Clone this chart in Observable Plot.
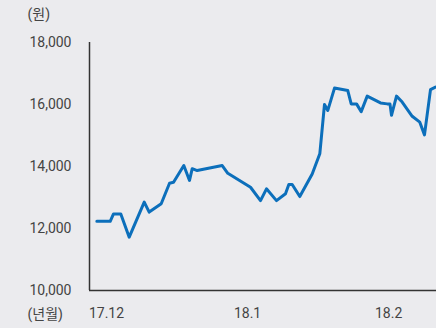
<!DOCTYPE html>
<html><head><meta charset="utf-8">
<script src="https://cdn.jsdelivr.net/npm/d3@7"></script>
<script src="https://cdn.jsdelivr.net/npm/@observablehq/plot@0.6"></script>
<style>
html,body{margin:0;padding:0;background:#ebebee;}
#chart svg{display:block;}
</style></head><body><div id="chart"></div>
<script>
// days since 2017-12-01 (approximate)
const days = [-2.13,0.81,1.54,3.14,4.99,8.29,9.38,12.02,13.85,14.73,16.99,18.24,18.84,19.93,25.43,26.66,31.65,33.85,35.16,37.36,39.34,40.07,40.81,42.48,45.21,46.88,47.91,48.64,50.11,53.03,53.78,54.95,55.98,57.30,60.22,61.69,62.3,62.64,63.74,64.99,67.19,68.86,69.89,71.21,72.31];
const prices = [12230,12230,12470,12470,11720,12850,12530,12800,13460,13490,14030,13550,13930,13870,14030,13780,13330,12900,13280,12900,13120,13420,13420,13030,13760,14410,16000,15810,16530,16450,16020,16020,15770,16270,16050,16020,16020,15650,16270,16080,15620,15430,15020,16480,16560];
const tickDays = [0, 31, 62];
const tickLabels = ["17.12", "18.1", "18.2"];
const yTicks = [10000, 12000, 14000, 16000, 18000];
const yUnit = "(원)";
const xUnit = "(년월)";
const xDomain = [-3.74, 72.53];
const yDomain = [10000, 18000];

const data = days.map((d, i) => ({day: d, price: prices[i]}));
const fmt = d3.format(",");
const chart = Plot.plot({
  width: 436, height: 328,
  marginLeft: 89, marginRight: 0, marginTop: 42, marginBottom: 38,
  style: {background: "#ebebee", fontFamily: "Roboto, 'Noto Sans CJK KR', sans-serif", fontSize: "14px", color: "#444"},
  x: {domain: xDomain},
  y: {domain: yDomain},
  marks: [
    Plot.axisY({ticks: yTicks, tickSize: 0, tickPadding: 18, tickFormat: d => fmt(d), fontSize: 14, label: null}),
    Plot.axisX({ticks: tickDays, tickSize: 0, tickPadding: 18, tickFormat: d => tickLabels[tickDays.indexOf(d)], fontSize: 14, label: null}),
    Plot.ruleX([xDomain[0]], {stroke: "#333", strokeWidth: 1.5}),
    Plot.ruleY([yDomain[0]], {stroke: "#333", strokeWidth: 1.5}),
    Plot.line(data, {x: "day", y: "price", stroke: "#0c6fbb", strokeWidth: 3, strokeLinejoin: "round"}),
    Plot.text([yUnit], {text: d => d, frameAnchor: "top-left", dx: -62, dy: -27.5, textAnchor: "start", lineAnchor: "middle", fontSize: 14, fill: "#444"}),
    Plot.text([xUnit], {text: d => d, frameAnchor: "bottom-left", dx: -62, dy: 24, textAnchor: "start", lineAnchor: "middle", fontSize: 14, fill: "#444"})
  ]
});
document.getElementById("chart").append(chart);
</script></body></html>
